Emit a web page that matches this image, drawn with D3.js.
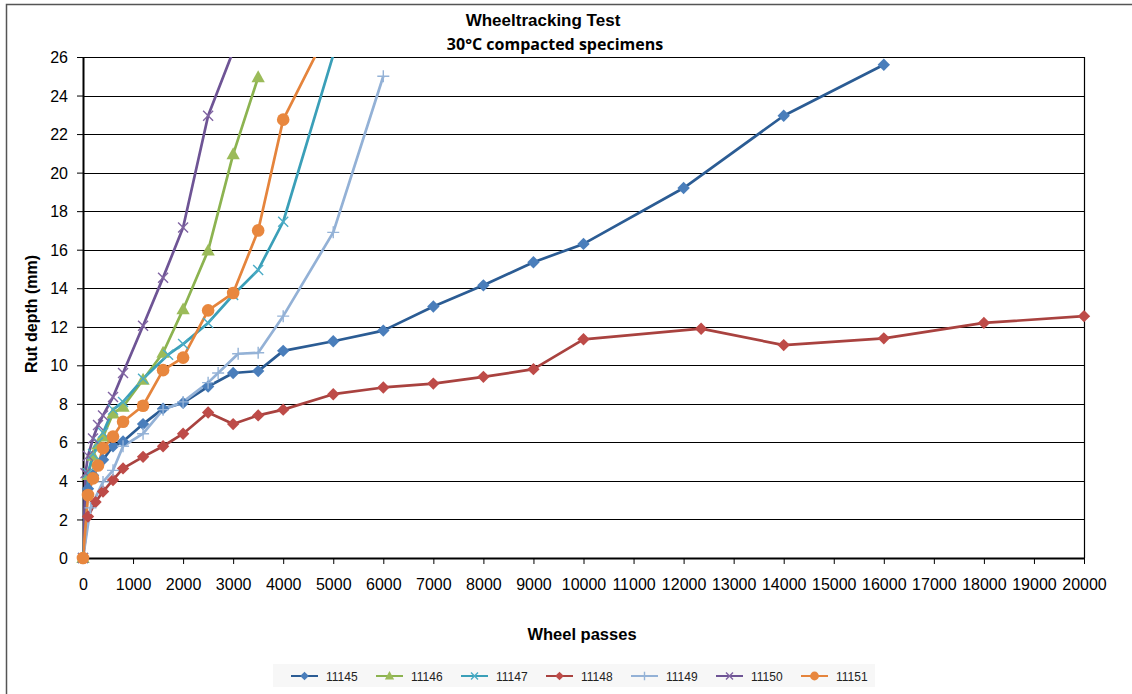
<!DOCTYPE html>
<html><head><meta charset="utf-8">
<script src="https://cdn.jsdelivr.net/npm/d3@7"></script>
<style>body{margin:0;background:#fff}svg{display:block;font-family:"Liberation Sans",Arial,sans-serif}</style>
</head><body><svg id="c" width="1132" height="694"></svg>
<script>
const seriesNames = ["11145","11146","11147","11148","11149","11150","11151"];
const s11145 = [[0,0],[100,3.6],[200,4.3],[400,5.1],[600,5.8],[800,6.05],[1200,6.95],[1600,7.75],[2000,8.05],[2500,8.9],[3000,9.6],[3500,9.7],[4000,10.75],[5000,11.25],[6000,11.8],[7000,13.05],[8000,14.15],[9000,15.35],[10000,16.3],[12000,19.2],[14000,22.95],[16000,25.6]];
const s11146 = [[0,0],[100,4.3],[200,5.3],[300,5.9],[400,6.3],[600,7.5],[800,7.85],[1200,9.25],[1600,10.65],[2000,12.9],[2500,15.95],[3000,20.95],[3500,24.95]];
const s11147 = [[0,0],[100,4.4],[200,5.4],[300,6.0],[400,6.5],[600,7.7],[800,8.1],[1200,9.3],[1700,10.55],[2000,11.1],[2500,12.2],[3000,13.65],[3500,14.95],[4000,17.45],[5000,26.1]];
const s11148 = [[0,0],[100,2.15],[250,2.9],[400,3.45],[600,4.05],[800,4.65],[1200,5.25],[1600,5.8],[2000,6.45],[2500,7.55],[3000,6.95],[3500,7.4],[4000,7.7],[5000,8.5],[6000,8.85],[7000,9.05],[8000,9.4],[9000,9.8],[10000,11.35],[12350,11.9],[14000,11.05],[16000,11.4],[18000,12.2],[20000,12.55]];
const s11149 = [[0,0],[150,2.6],[400,3.95],[600,4.55],[800,5.8],[1200,6.45],[1600,7.7],[2000,8.1],[2500,9.1],[2700,9.6],[3100,10.6],[3500,10.65],[4000,12.55],[5000,16.9],[6000,25.0]];
const s11150 = [[0,0],[50,4.4],[100,5.3],[200,6.2],[300,6.9],[400,7.4],[600,8.35],[800,9.6],[1200,12.05],[1600,14.55],[2000,17.15],[2500,22.95],[3000,26.3]];
const s11151 = [[0,0],[100,3.27],[200,4.13],[300,4.8],[400,5.7],[600,6.3],[800,7.07],[1200,7.9],[1600,9.75],[2000,10.4],[2500,12.85],[3000,13.75],[3500,17.0],[4000,22.75],[5000,27.9]];
const seriesData = [s11145,s11146,s11147,s11148,s11149,s11150,s11151];
const lineColors = ["#2B5C94","#8CB350","#3A9FB8","#A9423F","#93B1D6","#6E5495","#E5843C"];
const markerColors = ["#4A7EBB","#9BBB59","#4BACC6","#BE4B48","#95B3D7","#8064A2","#E8873E"];
const markerTypes = ["diamond","triangle","x","diamond","plus","x","circle"];
const xTicks = d3.range(0,20001,1000);
const yTicks = d3.range(0,27,2);
const titleText = "Wheeltracking Test";
const subtitleText = "30°C compacted specimens";
const xLabel = "Wheel passes";
const yLabel = "Rut depth (mm)";

const svg = d3.select("#c");
svg.append("path").attr("d","M6.5,694 V4.5 H1132").attr("fill","none").attr("stroke","#555").attr("stroke-width",1.5);

const L=83,R=1084,T=57,B=558;
const x = d3.scaleLinear().domain([0,20000]).range([L,R]);
const y = d3.scaleLinear().domain([0,26]).range([B,T]);

svg.append("g").selectAll("line").data(yTicks.filter(d=>d>0)).join("line")
  .attr("x1",L).attr("x2",R).attr("y1",d=>Math.round(y(d))+0.5).attr("y2",d=>Math.round(y(d))+0.5)
  .attr("stroke","#000").attr("stroke-width",1);
svg.append("line").attr("x1",R+0.5).attr("x2",R+0.5).attr("y1",T).attr("y2",B).attr("stroke","#000").attr("stroke-width",1.2);

const xAxis = svg.append("g").attr("transform",`translate(0,${B})`)
  .call(d3.axisBottom(x).tickValues(xTicks).tickFormat(d3.format("d")).tickSize(6).tickSizeOuter(0));
const yAxis = svg.append("g").attr("transform",`translate(${L},0)`)
  .call(d3.axisLeft(y).tickValues(yTicks).tickFormat(d3.format("d")).tickSize(6).tickSizeOuter(0));
[xAxis,yAxis].forEach(a=>{
  a.select(".domain").attr("stroke","#000").attr("stroke-width",2);
  a.selectAll(".tick line").attr("stroke","#000");
  a.selectAll(".tick text").attr("font-size",16).attr("fill","#000").attr("font-family","Liberation Sans, Arial, sans-serif");
});
xAxis.selectAll(".tick text").attr("y",26).attr("dy","0.35em");
yAxis.selectAll(".tick text").attr("x",-15).attr("dy","0.35em");

svg.append("clipPath").attr("id","clip").append("rect").attr("x",L).attr("y",T).attr("width",R-L+2).attr("height",B-T+10);

const line = d3.line().x(d=>x(d[0])).y(d=>y(d[1]));
const gLines = svg.append("g").attr("clip-path","url(#clip)");
seriesData.forEach((s,i)=>{
  gLines.append("path").datum(s).attr("d",line).attr("fill","none")
    .attr("stroke",lineColors[i]).attr("stroke-width",2.7).attr("stroke-linejoin","round");
});

function drawMarker(g,type,cx,cy,col,scale){
  scale = scale||1;
  if(type==="diamond"){
    const r=6.2*scale;
    g.append("path").attr("d",`M${cx},${cy-r}L${cx+r},${cy}L${cx},${cy+r}L${cx-r},${cy}Z`).attr("fill",col);
  } else if(type==="triangle"){
    const r=7*scale;
    g.append("path").attr("d",`M${cx},${cy-r}L${cx+r*0.95},${cy+r*0.7}L${cx-r*0.95},${cy+r*0.7}Z`).attr("fill",col);
  } else if(type==="circle"){
    g.append("circle").attr("cx",cx).attr("cy",cy).attr("r",6.3*scale).attr("fill",col);
  } else if(type==="x"){
    const r=5*scale;
    g.append("path").attr("d",`M${cx-r},${cy-r}L${cx+r},${cy+r}M${cx-r},${cy+r}L${cx+r},${cy-r}`).attr("stroke",col).attr("stroke-width",1.4);
  } else if(type==="plus"){
    const r=6*scale;
    g.append("path").attr("d",`M${cx-r},${cy}L${cx+r},${cy}M${cx},${cy-r}L${cx},${cy+r}`).attr("stroke",col).attr("stroke-width",1.4);
  }
}
const gMarks = svg.append("g");
seriesData.forEach((s,i)=>{
  s.filter(d=>d[1]<=26).forEach(d=>drawMarker(gMarks,markerTypes[i],x(d[0]),y(d[1]),markerColors[i]));
});

svg.append("text").attr("x",543).attr("y",26).attr("text-anchor","middle").attr("font-weight","bold").attr("font-size",17).text(titleText);
svg.append("text").attr("x",555).attr("y",50).attr("text-anchor","middle").attr("font-weight","bold").attr("font-size",16).attr("font-family","Open Sans, sans-serif").text(subtitleText);
svg.append("text").attr("x",582).attr("y",640).attr("text-anchor","middle").attr("font-weight","bold").attr("font-size",16.5).text(xLabel);
svg.append("text").attr("transform","translate(37,314) rotate(-90)").attr("text-anchor","middle").attr("font-weight","bold").attr("font-size",16).text(yLabel);

const lg = svg.append("g");
lg.append("rect").attr("x",273).attr("y",664).attr("width",602).attr("height",23).attr("fill","#f7f7f7");
seriesNames.forEach((n,i)=>{
  const x0 = 291 + i*85, yy = 676;
  lg.append("line").attr("x1",x0).attr("x2",x0+27).attr("y1",yy).attr("y2",yy).attr("stroke",lineColors[i]).attr("stroke-width",2);
  drawMarker(lg,markerTypes[i],x0+13.5,yy,markerColors[i],0.7);
  lg.append("text").attr("x",x0+35).attr("y",yy+4.5).attr("font-size",12).attr("fill","#222").text(n);
});
</script></body></html>
